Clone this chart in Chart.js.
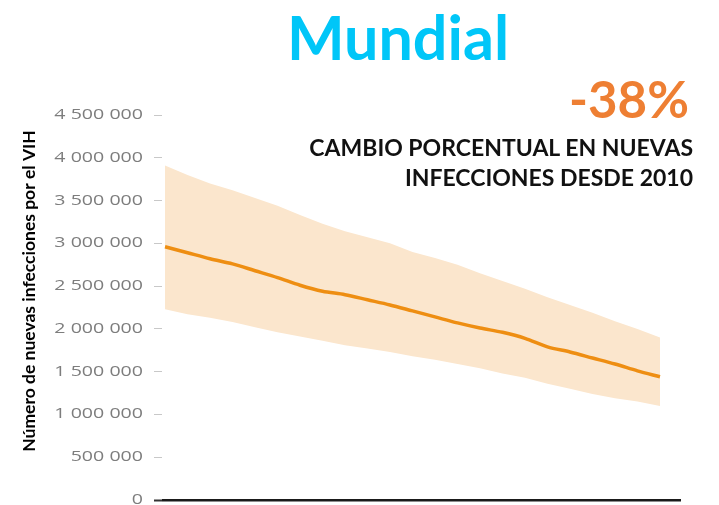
<!DOCTYPE html>
<html>
<head>
<meta charset="utf-8">
<script src="https://cdn.jsdelivr.net/npm/chart.js@4/dist/chart.umd.min.js"></script>
<style>
  html, body { margin: 0; padding: 0; background: #fff; }
  #wrap { position: relative; width: 719px; height: 505px; overflow: hidden; }
  canvas { position: absolute; left: 0; top: 0; }
  .t { position: absolute; font-family: Lato, "Open Sans", sans-serif; font-weight: 700; white-space: nowrap; line-height: 1; }
  #title { left: 287px; top: 6px; font-size: 61px; color: #00c6f8; }
  #pct { right: 30px; top: 73px; font-size: 51px; color: #ee7f33; }
  #sub1 { right: 26px; top: 136px; font-size: 23px; color: #111; }
  #sub2 { right: 26px; top: 166px; font-size: 23px; color: #111; }
</style>
</head>
<body>
<div id="wrap">
  <canvas id="c" width="719" height="505"></canvas>
  <div class="t" id="title">Mundial</div>
  <div class="t" id="pct">-38%</div>
  <div class="t" id="sub1">CAMBIO PORCENTUAL EN NUEVAS</div>
  <div class="t" id="sub2">INFECCIONES DESDE 2010</div>
</div>
<script>
const years = [2000,2001,2002,2003,2004,2005,2006,2007,2008,2009,2010,2011,2012,2013,2014,2015,2016,2017,2018,2019,2020,2021,2022];
const estimate = [2960000,2890000,2820000,2760000,2680000,2600000,2510000,2440000,2400000,2340000,2280000,2210000,2140000,2070000,2010000,1960000,1890000,1790000,1730000,1660000,1590000,1510000,1440000];
const upper = [3910000,3800000,3700000,3620000,3530000,3440000,3330000,3230000,3140000,3070000,3000000,2900000,2830000,2750000,2650000,2560000,2470000,2370000,2280000,2190000,2090000,2000000,1900000];
const lower = [2230000,2170000,2130000,2080000,2020000,1960000,1910000,1860000,1810000,1770000,1730000,1680000,1640000,1590000,1540000,1480000,1430000,1360000,1300000,1240000,1190000,1150000,1100000];
const yTicks = [0,500000,1000000,1500000,2000000,2500000,3000000,3500000,4000000,4500000];
const yTitle = 'Número de nuevas infecciones por el VIH';

const pts = arr => years.map((y, i) => ({x: y, y: arr[i]}));
const fmt = v => String(v).replace(/\B(?=(\d{3})+(?!\d))/g, ' ');

// Draws the (horizontally stretched) tick labels and the axis title
const axisText = {
  id: 'axisText',
  afterDraw(chart) {
    const ctx = chart.ctx;
    const ys = chart.scales.y;
    ctx.save();
    ctx.font = '14px "Open Sans"';
    ctx.fillStyle = '#7d7d7d';
    ctx.textAlign = 'right';
    ctx.textBaseline = 'middle';
    ys.ticks.forEach(t => {
      const py = ys.getPixelForValue(t.value);
      ctx.save();
      ctx.translate(143, py);
      ctx.scale(1.4, 1);
      ctx.fillText(fmt(t.value), 0, 0);
      ctx.restore();
    });
    ctx.restore();
    ctx.save();
    ctx.font = 'bold 17.5px Lato';
    ctx.fillStyle = '#000';
    ctx.textAlign = 'center';
    ctx.textBaseline = 'middle';
    ctx.translate(29, 291);
    ctx.rotate(-Math.PI / 2);
    ctx.fillText(yTitle, 0, 0);
    ctx.restore();
  }
};

new Chart(document.getElementById('c'), {
  type: 'line',
  data: {
    datasets: [
      { label: 'upper', data: pts(upper), borderWidth: 0, pointRadius: 0, fill: '+1', backgroundColor: '#fbe6cd', tension: 0, order: 2 },
      { label: 'lower', data: pts(lower), borderWidth: 0, pointRadius: 0, fill: false, tension: 0, order: 2 },
      { label: 'estimate', data: pts(estimate), borderColor: '#ee8e12', borderWidth: 3.5, pointRadius: 0, fill: false, tension: 0.3, order: 1, borderCapStyle: 'butt' }
    ]
  },
  plugins: [axisText],
  options: {
    responsive: false,
    animation: false,
    layout: { padding: { top: 115, bottom: 5, right: 39, left: 0 } },
    plugins: { legend: { display: false }, tooltip: { enabled: false } },
    scales: {
      x: {
        type: 'linear', min: 1999.91, max: 2022.89,
        ticks: { display: false },
        grid: { display: false, drawTicks: false },
        border: { display: true, color: '#1a1a1a', width: 2.5 },
        afterFit: s => { s.height = 0; }
      },
      y: {
        min: 0, max: 4500000,
        afterBuildTicks: s => { s.ticks = yTicks.map(v => ({value: v})); },
        ticks: { display: false },
        grid: {
          drawOnChartArea: false, tickLength: 13,
          tickBorderDash: [0, 4, 8, 100],
          color: c => (c.tick && c.tick.value === 0) ? '#333' : '#c8c8c8',
          tickWidth: c => (c.tick && c.tick.value === 0) ? 2 : 1
        },
        border: { display: false },
        title: { display: false },
        afterFit: s => { s.width = 163; }
      }
    }
  }
});
</script>
</body>
</html>
